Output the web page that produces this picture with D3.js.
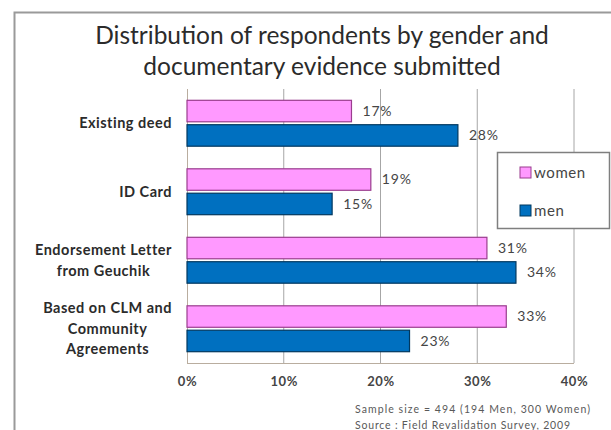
<!DOCTYPE html>
<html>
<head>
<meta charset="utf-8">
<script src="https://cdn.jsdelivr.net/npm/d3@7"></script>
<style>
  body { margin: 0; background: #fff; }
  svg { display: block; }
</style>
</head>
<body>
<div id="chart"></div>
<script>
// data
const categories = [
  ["Existing deed"],
  ["ID Card"],
  ["Endorsement Letter", "from Geuchik"],
  ["Based on CLM and", "Community", "Agreements"]
];
const seriesNames = ["women", "men"];
const women = [17, 19, 31, 33];
const men = [28, 15, 34, 23];
const xTicks = [0, 10, 20, 30, 40];
const titleLines = ["Distribution of respondents by gender and", "documentary evidence submitted"];
const notes = ["Sample size = 494 (194 Men, 300 Women)", "Source : Field Revalidation Survey, 2009"];

const W = 611, H = 430;
const plotLeft = 187, plotRight = 574, plotTop = 89, plotBottom = 363;
const fills = { women: "#ff99ff", men: "#0070c0" };
const strokes = { women: "#9a3d8e", men: "#00385f" };

const svg = d3.select("#chart").append("svg")
    .attr("width", W)
    .attr("height", H);

// outer frame
svg.append("rect")
    .attr("x", 14.5).attr("y", 12.5)
    .attr("width", 700).attr("height", 500)
    .attr("fill", "#fff")
    .attr("stroke", "#9a9a9a")
    .attr("stroke-width", 2);

// title
svg.append("g").selectAll("text")
    .data(titleLines)
    .enter()
    .append("text")
    .attr("x", 322)
    .attr("y", (d, i) => 44 + i * 31)
    .attr("text-anchor", "middle")
    .attr("font-family", "Lato, 'Open Sans', sans-serif")
    .attr("font-size", "24.5px")
    .attr("fill", "#2b2b2b")
    .text(d => d);

const x = d3.scaleLinear().domain([0, 40]).range([plotLeft, plotRight]);
const y = d3.scaleBand()
    .domain(d3.range(categories.length))
    .range([plotTop, plotBottom])
    .paddingInner(0.33)
    .paddingOuter(0.165);
const ySub = d3.scaleBand()
    .domain(seriesNames)
    .range([0, y.bandwidth()])
    .paddingInner(0.12);

// gridlines
svg.append("g").selectAll("line")
    .data(xTicks.slice(1))
    .enter()
    .append("line")
    .attr("x1", d => x(d)).attr("x2", d => x(d))
    .attr("y1", plotTop).attr("y2", plotBottom)
    .attr("stroke", "#a6a6a6")
    .attr("stroke-width", 1);

// axes lines
svg.append("line")
    .attr("x1", plotLeft).attr("x2", plotRight)
    .attr("y1", plotBottom + 0.5).attr("y2", plotBottom + 0.5)
    .attr("stroke", "#b9ad9f");
svg.append("line")
    .attr("x1", plotLeft + 0.5).attr("x2", plotLeft + 0.5)
    .attr("y1", plotTop).attr("y2", plotBottom)
    .attr("stroke", "#b9ad9f");

const xAxis = d3.axisBottom(x)
    .tickValues(xTicks)
    .tickSize(0)
    .tickFormat(d => d + "%");
svg.append("g")
    .attr("transform", "translate(0," + plotBottom + ")")
    .call(xAxis)
    .call(g => g.select(".domain").remove())
    .selectAll("text")
    .attr("dy", "1.5em")
    .attr("font-family", "Lato, sans-serif")
    .attr("font-weight", "bold")
    .attr("font-size", "13px")
    .attr("letter-spacing", "0.6px")
    .attr("fill", "#454545");

// bars
const rows = [];
categories.forEach((c, i) => {
    rows.push({ i: i, s: "women", v: women[i] });
    rows.push({ i: i, s: "men", v: men[i] });
});

svg.append("g").selectAll("rect")
    .data(rows)
    .enter()
    .append("rect")
    .attr("x", x(0))
    .attr("y", d => y(d.i) + ySub(d.s))
    .attr("width", d => x(d.v) - x(0))
    .attr("height", ySub.bandwidth())
    .attr("fill", d => fills[d.s])
    .attr("stroke", d => strokes[d.s])
    .attr("stroke-width", 1.2);

svg.append("g").selectAll("text")
    .data(rows)
    .enter()
    .append("text")
    .attr("x", d => x(d.v) + 11)
    .attr("y", d => y(d.i) + ySub(d.s) + ySub.bandwidth() / 2)
    .attr("dy", "0.35em")
    .attr("font-family", "Lato, sans-serif")
    .attr("font-size", "14px")
    .attr("letter-spacing", "0.8px")
    .attr("fill", "#454545")
    .text(d => d.v + "%");

// category labels, centred block, widest line ends at 172
const labelRight = 172;
const lineH = 20.5;
categories.forEach((lines, i) => {
    const g = svg.append("g");
    const cy = y(i) + y.bandwidth() / 2;
    const t = g.selectAll("text")
        .data(lines)
        .enter()
        .append("text")
        .attr("y", (d, j) => cy + (j - (lines.length - 1) / 2) * lineH)
        .attr("dy", "0.35em")
        .attr("text-anchor", "middle")
        .attr("font-family", "Lato, sans-serif")
        .attr("font-weight", "bold")
        .attr("font-size", "14.5px")
        .attr("letter-spacing", "0.5px")
        .attr("fill", "#2b2b2b")
        .text(d => d);
    let maxW = 0;
    t.each(function () { maxW = Math.max(maxW, this.getComputedTextLength()); });
    t.attr("x", labelRight - maxW / 2);
});

// legend
const lg = svg.append("g");
lg.append("rect")
    .attr("x", 497.5).attr("y", 152.5)
    .attr("width", 112).attr("height", 76)
    .attr("fill", "#fff")
    .attr("stroke", "#7f7f7f")
    .attr("stroke-width", 1.5);
seriesNames.forEach((s, i) => {
    const yy = 167 + i * 38;
    lg.append("rect")
        .attr("x", 520).attr("y", yy)
        .attr("width", 11).attr("height", 11)
        .attr("fill", fills[s])
        .attr("stroke", strokes[s]);
    lg.append("text")
        .attr("x", 534).attr("y", yy + 5.5)
        .attr("dy", "0.35em")
        .attr("font-family", "Lato, sans-serif")
        .attr("font-size", "15px")
        .attr("letter-spacing", "0.6px")
        .attr("fill", "#454545")
        .text(s);
});

// footnotes
const noteWidths = [235, 215];
svg.append("g").selectAll("text")
    .data(notes)
    .enter()
    .append("text")
    .attr("x", 355)
    .attr("y", (d, i) => 413 + i * 16)
    .attr("font-family", "Lato, sans-serif")
    .attr("font-size", "10.5px")
    .attr("textLength", (d, i) => noteWidths[i])
    .attr("lengthAdjust", "spacing")
    .attr("fill", "#595959")
    .text(d => d);
</script>
</body>
</html>
